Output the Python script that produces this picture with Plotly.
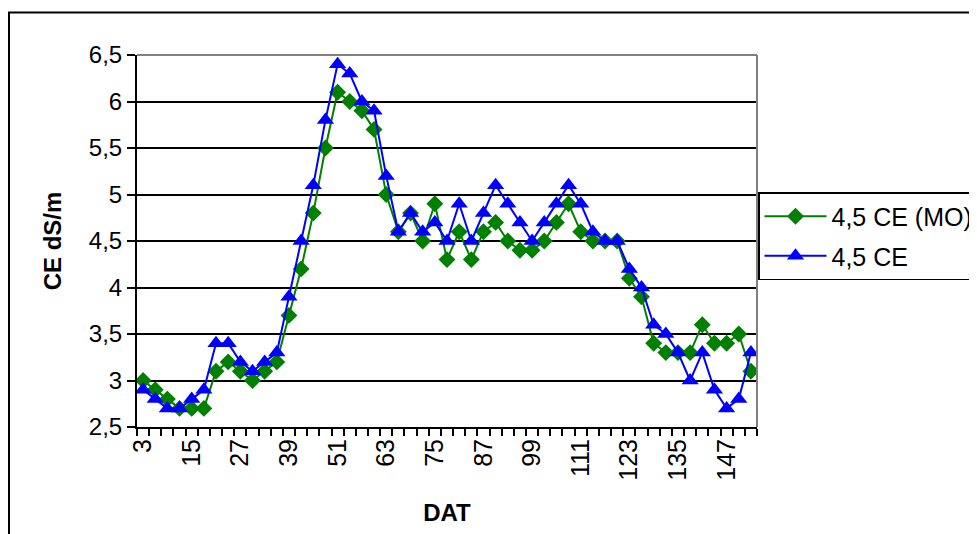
import plotly.graph_objects as go

dat = list(range(3, 154, 3))  # 51 categories, DAT 3..153
ce_mo = [3.0, 2.9, 2.8, 2.7, 2.7, 2.7, 3.1, 3.2, 3.1, 3.0,
         3.1, 3.2, 3.7, 4.2, 4.8, 5.5, 6.1, 6.0, 5.9, 5.7,
         5.0, 4.6, 4.8, 4.5, 4.9, 4.3, 4.6, 4.3, 4.6, 4.7,
         4.5, 4.4, 4.4, 4.5, 4.7, 4.9, 4.6, 4.5, 4.5, 4.5,
         4.1, 3.9, 3.4, 3.3, 3.3, 3.3, 3.6, 3.4, 3.4, 3.5,
         3.1]
ce = [2.9, 2.8, 2.7, 2.7, 2.8, 2.9, 3.4, 3.4, 3.2, 3.1,
      3.2, 3.3, 3.9, 4.5, 5.1, 5.8, 6.4, 6.3, 6.0, 5.9,
      5.2, 4.6, 4.8, 4.6, 4.7, 4.5, 4.9, 4.5, 4.8, 5.1,
      4.9, 4.7, 4.5, 4.7, 4.9, 5.1, 4.9, 4.6, 4.5, 4.5,
      4.2, 4.0, 3.6, 3.5, 3.3, 3.0, 3.3, 2.9, 2.7, 2.8,
      3.3]
x_tick_vals = [3, 15, 27, 39, 51, 63, 75, 87, 99, 111, 123, 135, 147]
y_tick_vals = [2.5, 3, 3.5, 4, 4.5, 5, 5.5, 6, 6.5]
y_tick_text = ["2,5", "3", "3,5", "4", "4,5", "5", "5,5", "6", "6,5"]

FONT = "Liberation Sans, Arial, sans-serif"

fig = go.Figure()
fig.add_trace(go.Scatter(
    x=dat, y=ce_mo, name="4,5 CE (MO)", mode="lines+markers", legendgroup="a",
    line=dict(color="#008000", width=2),
    marker=dict(symbol="diamond", size=13, color="#008000"),
))
fig.add_trace(go.Scatter(
    x=dat, y=ce, name="4,5 CE", mode="lines+markers", legendgroup="b",
    line=dict(color="#0000FF", width=2),
    marker=dict(symbol="triangle-up", size=15, color="#0000FF"),
))

OFF = 8  # browser default body margin
W, H = 977 - OFF, 534 - OFF
L, T, R, B = 137, 55, 757, 427
l, t, r, b = L - OFF, T - OFF, R - OFF, B - OFF

def px_x(p):
    return (p - OFF - l) / (r - l)

def px_y(p):
    return (b - (p - OFF)) / (b - t)

fig.update_layout(
    width=W, height=H,
    margin=dict(l=l, r=W - r, t=t, b=H - b, pad=0, autoexpand=False),
    paper_bgcolor="white", plot_bgcolor="white",
    font=dict(family=FONT, size=22, color="black"),
    showlegend=True,
    legend=dict(
        x=px_x(758), y=px_y(192), xanchor="left", yanchor="top",
        bgcolor="white", bordercolor="black", borderwidth=1.5,
        font=dict(family=FONT, size=25, color="black"),
        itemwidth=62, traceorder="grouped", tracegroupgap=4,
    ),
    xaxis=dict(
        range=[1.5, 154.5], showgrid=False, zeroline=False,
        tickmode="array", tickvals=x_tick_vals,
        ticktext=[str(v) for v in x_tick_vals],
        tickangle=-90, ticks="", ticklen=0,
        tickfont=dict(family=FONT, size=25),
        showline=True, linecolor="black", linewidth=2,
        minor=dict(tick0=1.5, dtick=3, ticks="outside", ticklen=7,
                   tickcolor="black", tickwidth=1.5, showgrid=False),
        title=dict(text="<b>DAT</b>", font=dict(family=FONT, size=24), standoff=24),
    ),
    yaxis=dict(
        range=[2.5, 6.5], zeroline=False,
        tickmode="array", tickvals=y_tick_vals, ticktext=y_tick_text,
        ticks="outside", ticklen=8, tickcolor="black", tickwidth=1.5,
        tickfont=dict(family=FONT, size=24),
        showgrid=True, gridcolor="black", gridwidth=1.5,
        showline=True, linecolor="black", linewidth=2,
        title=dict(text="<b>CE dS/m</b>", font=dict(family=FONT, size=24), standoff=20),
    ),
    shapes=[
        dict(type="line", xref="paper", yref="paper", x0=0, x1=1, y0=1, y1=1,
             line=dict(color="#808080", width=2)),
        dict(type="line", xref="paper", yref="paper", x0=1, x1=1, y0=0, y1=1,
             line=dict(color="#808080", width=2)),
        dict(type="rect", xref="paper", yref="paper",
             x0=px_x(9), x1=px_x(1000), y0=px_y(570), y1=px_y(12.5),
             line=dict(color="black", width=2), fillcolor="rgba(0,0,0,0)"),
    ],
)

fig.write_html("out.html")
